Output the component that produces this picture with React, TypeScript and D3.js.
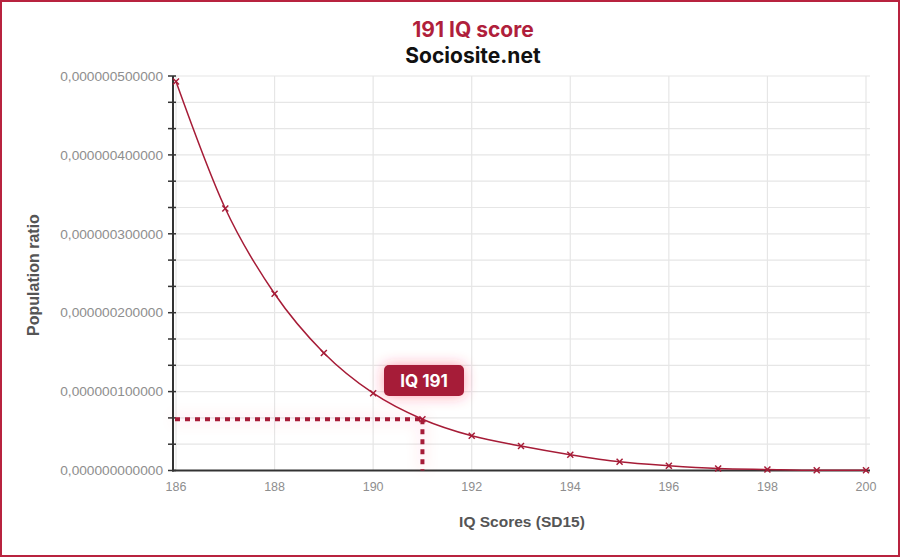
import React from 'react';
import * as d3 from 'd3';

const titleText = '191 IQ score';
const subtitleText = 'Sociosite.net';
const xAxisTitle = 'IQ Scores (SD15)';
const yAxisTitle = 'Population ratio';

const iqScores = [186, 187, 188, 189, 190, 191, 192, 193, 194, 195, 196, 197, 198, 199, 200];
const populationRatio = [
  0.000000493, 0.000000332, 0.000000224, 0.000000149, 0.000000098, 0.000000065,
  0.000000044, 0.000000031, 0.00000002, 0.000000011, 0.000000006, 0.0000000025,
  0.0000000012, 0.0000000002, 0.0000000004,
];
const highlightIQ = 191;
const highlightRatio = 0.000000065;
const highlightLabel = 'IQ 191';

const xTicks = [186, 188, 190, 192, 194, 196, 198, 200];
const yMajorTicks = [0, 0.0000001, 0.0000002, 0.0000003, 0.0000004, 0.0000005];
const yGridCount = 15;

const W = 900;
const H = 557;
const RED = '#a61c37';

export default function App() {
  const x = d3.scaleLinear().domain([186, 200]).range([176, 866]);
  const y = d3.scaleLinear().domain([0, 0.0000005]).range([470.5, 76]);
  const yGrid = d3.range(0, yGridCount + 1).map((i) => (i * 0.0000005) / yGridCount);
  const fmt = (v: number) => d3.format('.12f')(v).replace('.', ',');

  const line = d3
    .line<number>()
    .x((_, i) => x(iqScores[i]))
    .y((d) => y(d))
    .curve(d3.curveMonotoneX);
  const pathD = line(populationRatio) || '';

  const axisX = 173;
  const plotRight = 870;
  const hx = x(highlightIQ);
  const hy = y(highlightRatio);
  const boxW = 80;
  const boxH = 31;
  const boxCx = 424;
  const boxCy = 380.5;

  return (
    <svg
      width={W}
      height={H}
      style={{ position: 'absolute', left: 0, top: 0, background: '#fff' }}
    >
      <defs>
        <filter id="glow" x="-50%" y="-100%" width="200%" height="300%">
          <feDropShadow dx="0" dy="0" stdDeviation="7" floodColor="#ff2d50" floodOpacity="0.3" />
        </filter>
        <filter id="glowBox" x="-50%" y="-100%" width="200%" height="300%">
          <feDropShadow dx="0" dy="0" stdDeviation="7" floodColor="#ff2d50" floodOpacity="0.45" />
        </filter>
      </defs>
      <rect x={1} y={1} width={W - 2} height={H - 2} fill="#fff" stroke="#b8233f" strokeWidth={2} />

      {/* grid */}
      {yGrid.map((v, i) => (
        <line key={'hg' + i} x1={axisX} x2={plotRight} y1={y(v)} y2={y(v)} stroke="#e6e6e6" strokeWidth={1.2} />
      ))}
      {xTicks.map((v) => (
        <line key={'vg' + v} x1={x(v)} x2={x(v)} y1={y(0.0000005)} y2={y(0)} stroke="#e6e6e6" strokeWidth={1.2} />
      ))}

      {/* y axis */}
      <line x1={axisX} x2={axisX} y1={y(0.0000005)} y2={y(0) + 1} stroke="#333" strokeWidth={2} />
      {yGrid.map((v, i) => (
        <line key={'yt' + i} x1={axisX - 5} x2={axisX + 3} y1={y(v)} y2={y(v)} stroke="#333" strokeWidth={1.5} />
      ))}
      {yMajorTicks.map((v) => (
        <text
          key={'yl' + v}
          x={163}
          y={y(v)}
          dy="0.35em"
          textAnchor="end"
          fontFamily="Liberation Sans, Arial, sans-serif"
          fontSize={13.7}
          fill="#8e8e8e"
        >
          {fmt(v)}
        </text>
      ))}

      {/* x axis */}
      <line x1={axisX - 1} x2={plotRight} y1={y(0)} y2={y(0)} stroke="#333" strokeWidth={2} />
      {xTicks.map((v) => (
        <text
          key={'xl' + v}
          x={x(v)}
          y={490.5}
          textAnchor="middle"
          fontFamily="Liberation Sans, Arial, sans-serif"
          fontSize={12.5}
          fill="#8e8e8e"
        >
          {v}
        </text>
      ))}

      {/* curve */}
      <path d={pathD} fill="none" stroke={RED} strokeWidth={1.5} />
      {populationRatio.map((v, i) => {
        const cx = x(iqScores[i]);
        const cy = y(v);
        const s = 3;
        return (
          <g key={'m' + i} stroke={RED} strokeWidth={1.5}>
            <line x1={cx - s} x2={cx + s} y1={cy - s} y2={cy + s} />
            <line x1={cx - s} x2={cx + s} y1={cy + s} y2={cy - s} />
          </g>
        );
      })}

      {/* highlight dashed lines */}
      <g filter="url(#glow)">
        <line x1={axisX + 2} x2={hx} y1={hy} y2={hy} stroke={RED} strokeWidth={4} strokeDasharray="5 5" />
        <line x1={hx} x2={hx} y1={hy} y2={y(0)} stroke={RED} strokeWidth={4} strokeDasharray="5 5" />
      </g>

      {/* label box */}
      <g filter="url(#glowBox)">
        <rect x={boxCx - boxW / 2} y={boxCy - boxH / 2} width={boxW} height={boxH} rx={5} fill={RED} />
      </g>
      <text
        x={boxCx}
        y={boxCy}
        dy="0.36em"
        textAnchor="middle"
        fontFamily="Inter, sans-serif"
        fontWeight={700}
        fontSize={17}
        fill="#fff"
      >
        {highlightLabel}
      </text>

      {/* titles */}
      <text x={473} y={37} textAnchor="middle" fontFamily="Inter, sans-serif" fontWeight={700} fontSize={21} fill="#b01f3c">
        {titleText}
      </text>
      <text x={473} y={63} textAnchor="middle" fontFamily="Inter, sans-serif" fontWeight={700} fontSize={21} fill="#111">
        {subtitleText}
      </text>

      <text
        x={522}
        y={527}
        textAnchor="middle"
        fontFamily="Liberation Sans, Arial, sans-serif"
        fontWeight={700}
        fontSize={15.5}
        fill="#555"
      >
        {xAxisTitle}
      </text>
      <text
        transform={`translate(39, 275) rotate(-90)`}
        textAnchor="middle"
        fontFamily="Liberation Sans, Arial, sans-serif"
        fontWeight={700}
        fontSize={16}
        fill="#555"
      >
        {yAxisTitle}
      </text>
    </svg>
  );
}
